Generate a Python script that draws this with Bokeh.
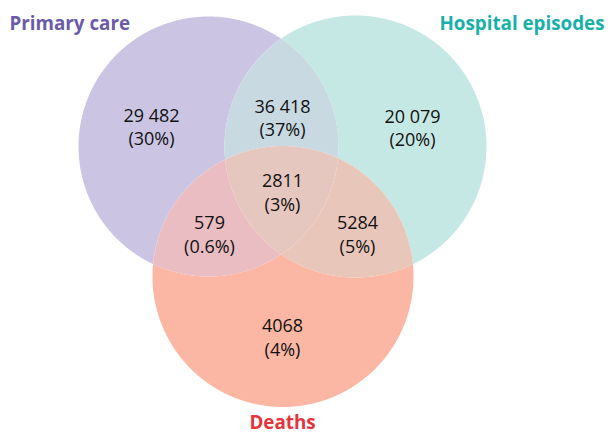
import numpy as np
from bokeh.plotting import figure
from bokeh.models import Range1d, ColumnDataSource
from bokeh.core.properties import value
from bokeh.embed import file_html
from bokeh.resources import INLINE

# ---- data ----
set_names = ["Primary care", "Hospital episodes", "Deaths"]
set_colors = ["#6A5BA9", "#17B1AA", "#E4343C"]
# regions: membership in (Primary care, Hospital episodes, Deaths)
region_members = [(1, 0, 0), (0, 1, 0), (0, 0, 1), (1, 1, 0), (1, 0, 1), (0, 1, 1), (1, 1, 1)]
region_counts = [29482, 20079, 4068, 36418, 579, 5284, 2811]
region_colors = ["#CBC5E3", "#C6E8E4", "#FBB7A3", "#C9D9E1", "#E9BDC1", "#E9C6BA", "#E6C7BF"]

# ---- layout (reference pixel coordinates) ----
circles = [(208.0, 146.0, 130.0), (355.0, 146.0, 131.0), (282.5, 276.0, 130.5)]
label_xy = [(151, 114), (412, 115), (282, 325), (282, 105), (209, 222), (357, 222), (282, 180)]
line_gap = 23
title_xy = [(9, 22, "left"), (604, 22, "right"), (282, 421, "center")]


def fmt_count(n):
    return f"{n:,}".replace(",", " ") if n >= 10000 else str(n)


def fmt_pct(n, total):
    v = 100.0 * n / total
    return f"({v:.1f}%)" if v < 1 else f"({v:.0f}%)"


def region_polygon(member, circs, n=2000):
    pieces = []
    th = np.linspace(0, 2 * np.pi, n, endpoint=False)
    for k, (cx, cy, r) in enumerate(circs):
        x = cx + r * np.cos(th)
        y = cy + r * np.sin(th)
        mask = np.ones(n, bool)
        for j, (ox, oy, orr) in enumerate(circs):
            if j == k:
                continue
            d = np.hypot(x - ox, y - oy)
            mask &= (d < orr) if member[j] else (d > orr)
        if not mask.any():
            continue
        if mask.all():
            runs = [np.arange(n)]
        else:
            start = int(np.argmin(mask))
            idx = (np.arange(n) + start) % n
            runs, cur = [], []
            for i in idx:
                if mask[i]:
                    cur.append(i)
                elif cur:
                    runs.append(np.array(cur))
                    cur = []
            if cur:
                runs.append(np.array(cur))
        for run in runs:
            px, py = x[run], y[run]
            if not member[k]:
                px, py = px[::-1], py[::-1]
            pieces.append((px, py))
    xs, ys = list(pieces[0][0]), list(pieces[0][1])
    rest = pieces[1:]
    while rest:
        ex, ey = xs[-1], ys[-1]
        dists = [np.hypot(pc[0][0] - ex, pc[1][0] - ey) for pc in rest]
        i = int(np.argmin(dists))
        pc = rest.pop(i)
        xs += list(pc[0])
        ys += list(pc[1])
    return xs, ys


total = sum(region_counts)
polys = [region_polygon(m, circles) for m in region_members]

p = figure(width=608, height=435, output_backend="svg", toolbar_location=None,
           x_range=Range1d(0, 608), y_range=Range1d(435, 0), min_border=0)
p.axis.visible = False
p.grid.visible = False
p.outline_line_color = None
p.background_fill_color = "white"
p.border_fill_color = "white"

p.patches(xs=[pg[0] for pg in polys], ys=[pg[1] for pg in polys],
          fill_color=region_colors, line_color=None)

src = ColumnDataSource(dict(
    x=[xy[0] for xy in label_xy],
    y1=[xy[1] for xy in label_xy],
    y2=[xy[1] + line_gap for xy in label_xy],
    cnt=[fmt_count(c) for c in region_counts],
    pct=[fmt_pct(c, total) for c in region_counts],
))
for col, ycol in (("cnt", "y1"), ("pct", "y2")):
    p.text(x="x", y=ycol, text=col, source=src, text_align="center",
           text_baseline="middle", text_font=value("Open Sans"),
           text_font_size="18px", text_color="#111111")

for (tx, ty, al), name, colr in zip(title_xy, set_names, set_colors):
    p.text(x=[tx], y=[ty], text=[name], text_align=al, text_baseline="middle",
           text_font=value("Open Sans"), text_font_style="bold",
           text_font_size="18.8px", text_color=colr)

open("out.html", "w").write(file_html(p, INLINE))
